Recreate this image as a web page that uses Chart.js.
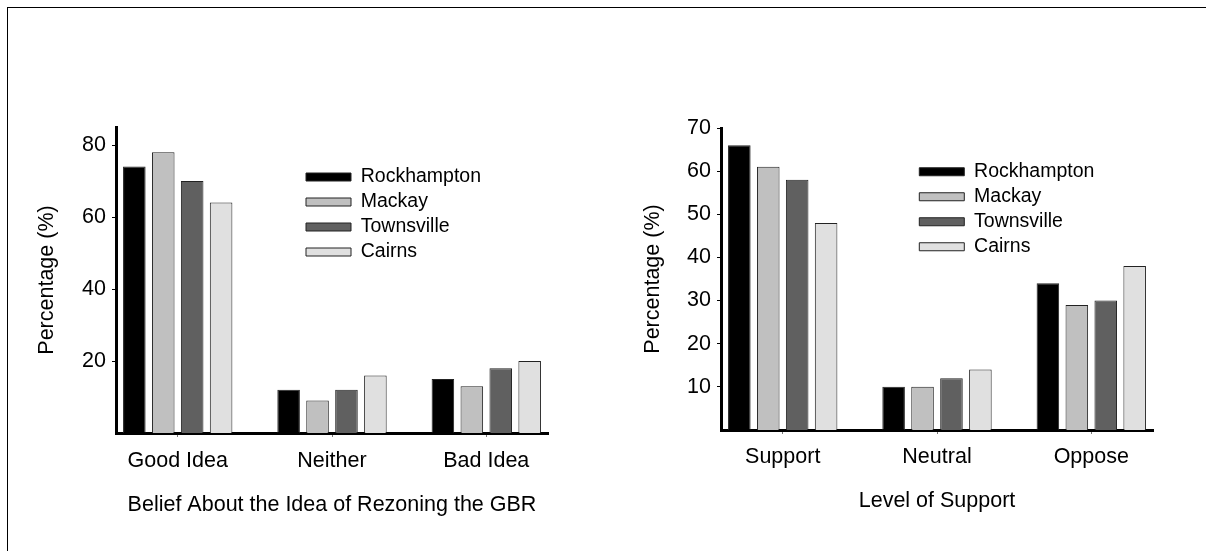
<!DOCTYPE html>
<html><head><meta charset="utf-8">
<script src="https://cdn.jsdelivr.net/npm/chart.js@4.4.1/dist/chart.umd.min.js"></script>
<style>
html,body{margin:0;padding:0;background:#fff;}
#wrap{position:relative;width:1206px;height:551px;overflow:hidden;background:#fff;}
#frame{position:absolute;left:7px;top:7px;width:1250px;height:600px;border-left:1px solid #000;border-top:1px solid #000;}
canvas{position:absolute;left:0;top:0;}
</style></head><body>
<div id="wrap"><div id="frame"></div>
<canvas id="c1" width="1206" height="551"></canvas>
<canvas id="c2" width="1206" height="551"></canvas>
</div>
<script>
// ---- data ----
const seriesNames = ['Rockhampton', 'Mackay', 'Townsville', 'Cairns'];

const beliefCategories = ['Good Idea', 'Neither', 'Bad Idea'];
const beliefRockhampton = [74, 12, 15];
const beliefMackay = [78, 9, 13];
const beliefTownsville = [70, 12, 18];
const beliefCairns = [64, 16, 20];
const beliefTicks = [20, 40, 60, 80];

const supportCategories = ['Support', 'Neutral', 'Oppose'];
const supportRockhampton = [66, 10, 34];
const supportMackay = [61, 10, 29];
const supportTownsville = [58, 12, 30];
const supportCairns = [48, 14, 38];
const supportTicks = [10, 20, 30, 40, 50, 60, 70];

// ---- styles ----
const fills = ['#000000', '#c0c0c0', '#606060', '#e0e0e0'];
Chart.defaults.font.family = '"Liberation Sans", Arial, sans-serif';
Chart.defaults.color = '#000';

const placeLegend = {
  id: 'placeLegend',
  afterLayout(chart, args, opts) {
    const lg = chart.legend;
    if (!lg) return;
    const w = lg.width, h = lg.height;
    lg.left = opts.x; lg.top = opts.y; lg.right = opts.x + w; lg.bottom = opts.y + h;
  }
};

function makeChart(id, cats, series, yTicks, yMax, xTitle, g) {
  const axisFont = {size: 21.5};
  return new Chart(document.getElementById(id), {
    type: 'bar',
    data: {
      datasets: series.map((vals, k) => ({
        label: seriesNames[k],
        data: vals.map((v, i) => ({x: i, y: v})),
        backgroundColor: fills[k],
        borderColor: '#222',
        borderWidth: 1,
        borderSkipped: 'start',
        categoryPercentage: 0.75,
        barPercentage: 0.78
      }))
    },
    plugins: [placeLegend],
    options: {
      responsive: false,
      animation: false,
      devicePixelRatio: 1,
      events: [],
      layout: {padding: g.pad},
      scales: {
        x: {
          type: 'linear', min: -0.4, max: 2.4, bounds: 'data', offset: false,
          afterBuildTicks: s => { s.ticks = cats.map((c, i) => ({value: i})); },
          afterFit: s => { s.height = g.xh; },
          ticks: {callback: v => cats[v], font: axisFont, color: '#000', padding: g.xpad, maxRotation: 0, autoSkip: false},
          grid: {offset: false, drawOnChartArea: false, drawTicks: true, tickLength: 4, color: '#777'},
          border: {display: true, color: '#000', width: 3},
          title: {display: true, text: xTitle, font: axisFont, color: '#000', padding: {top: 0, bottom: g.xtp}}
        },
        y: {
          min: 0, max: yMax, bounds: 'data',
          afterBuildTicks: s => { s.ticks = yTicks.map(v => ({value: v})); },
          afterFit: s => { s.width = g.yw; },
          ticks: {font: axisFont, color: '#000', padding: 6},
          grid: {drawOnChartArea: false, drawTicks: true, tickLength: 4, color: '#000'},
          border: {display: true, color: '#000', width: 3},
          title: {display: true, text: 'Percentage (%)', font: axisFont, color: '#000', padding: {top: g.ytp, bottom: 0}}
        }
      },
      plugins: {
        tooltip: {enabled: false},
        legend: {
          position: 'chartArea', align: 'start',
          labels: {boxWidth: 45, boxHeight: 8, padding: 5.5, font: {size: 19.5}, color: '#000'}
        },
        placeLegend: g.legend
      }
    }
  });
}

makeChart('c1', beliefCategories,
  [beliefRockhampton, beliefMackay, beliefTownsville, beliefCairns],
  beliefTicks, 85, 'Belief About the Idea of Rezoning the GBR',
  {pad: {left: 0, top: 127, right: 658, bottom: 0}, yw: 116, xh: 118, xpad: 11, xtp: 33, ytp: 34, legend: {x: 300.5, y: 161.75}});

makeChart('c2', supportCategories,
  [supportRockhampton, supportMackay, supportTownsville, supportCairns],
  supportTicks, 70, 'Level of Support',
  {pad: {left: 600, top: 128, right: 53, bottom: 0}, yw: 121, xh: 121, xpad: 10, xtp: 37, ytp: 40, legend: {x: 913.8, y: 156.5}});
</script>
</body></html>
